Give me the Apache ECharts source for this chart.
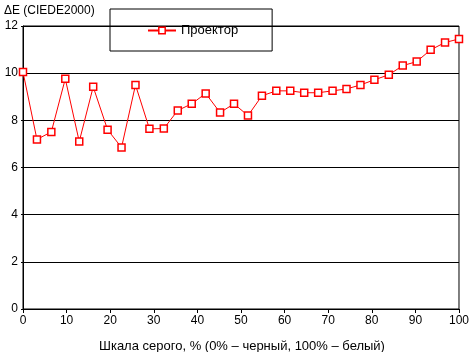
<!DOCTYPE html>
<html>
<head>
<meta charset="utf-8">
<script src="https://cdn.jsdelivr.net/npm/echarts@6/dist/echarts.min.js"></script>
<style>
  html, body { margin: 0; padding: 0; background: #fff; }
  #chart { width: 472px; height: 352px; }
</style>
</head>
<body>
<div id="chart"></div>
<script>
// gray level, % (32 steps)
var grayLevels = [0, 3.2, 6.5, 9.7, 12.9, 16.1, 19.4, 22.6, 25.8, 29.0, 32.3, 35.5, 38.7, 41.9, 45.2, 48.4,
  51.6, 54.8, 58.1, 61.3, 64.5, 67.7, 71.0, 74.2, 77.4, 80.6, 83.9, 87.1, 90.3, 93.5, 96.8, 100];
// deltaE values for the projector
var deltaE = [10.05, 7.19, 7.51, 9.76, 7.10, 9.42, 7.60, 6.85, 9.50, 7.64, 7.65, 8.42, 8.70, 9.14, 8.33, 8.70,
  8.20, 9.04, 9.25, 9.25, 9.17, 9.17, 9.25, 9.33, 9.50, 9.72, 9.93, 10.32, 10.49, 10.99, 11.30, 11.45];
var seriesName = "Проектор";
var yTitle = "ΔE (CIEDE2000)";
var xTitle = "Шкала серого, % (0% – черный, 100% – белый)";

var chart = echarts.init(document.getElementById("chart"));
var font = "Arial, 'Liberation Sans', sans-serif";

var points = [];
for (var i = 0; i < grayLevels.length; i++) {
  points.push([grayLevels[i], deltaE[i]]);
}

chart.setOption({
  animation: false,
  backgroundColor: "#fff",
  textStyle: { fontFamily: font, color: "#000" },
  grid: {
    left: 23, right: 10, top: 26, bottom: 43,
    show: true, borderColor: "#000", borderWidth: 1, backgroundColor: "transparent"
  },
  title: [{
    text: yTitle, left: -1, top: 0,
    textStyle: { fontFamily: font, fontSize: 12, fontWeight: "normal", color: "#000" }
  }, {
    text: xTitle, left: 94, top: 335,
    textStyle: { fontFamily: font, fontSize: 13, fontWeight: "normal", color: "#000" }
  }],
  legend: {
    left: 110, top: 9,
    padding: [15, 34, 14, 37],
    borderColor: "#000", borderWidth: 1,
    itemWidth: 28, itemHeight: 8, itemGap: 3,
    itemStyle: { color: "#fff", borderColor: "#ff0000", borderWidth: 1.5 },
    textStyle: { fontFamily: font, fontSize: 13, color: "#000", padding: [1, 0, 0, 0] },
    data: [seriesName]
  },
  xAxis: {
    type: "value", min: 0, max: 100, interval: 10,
    axisLine: { show: true, lineStyle: { color: "#000", width: 1 } },
    axisTick: { show: true, length: 4, lineStyle: { color: "#000" } },
    axisLabel: { fontFamily: font, fontSize: 12, color: "#000", margin: 6 },
    splitLine: { show: false }
  },
  yAxis: {
    type: "value", min: 0, max: 12, interval: 2,
    axisLine: { show: true, lineStyle: { color: "#000", width: 1 } },
    axisTick: { show: true, length: 2, lineStyle: { color: "#000" } },
    axisLabel: { fontFamily: font, fontSize: 12, color: "#000", margin: 5 },
    splitLine: { show: true, lineStyle: { color: "#000", width: 1 } }
  },
  series: [{
    name: seriesName,
    type: "line",
    data: points,
    symbol: "rect",
    symbolSize: 7,
    showAllSymbol: true,
    lineStyle: { color: "#ff0000", width: 1 },
    itemStyle: { color: "#fff", borderColor: "#ff0000", borderWidth: 1.5 },
    emphasis: { disabled: true }
  }]
});
</script>
</body>
</html>
